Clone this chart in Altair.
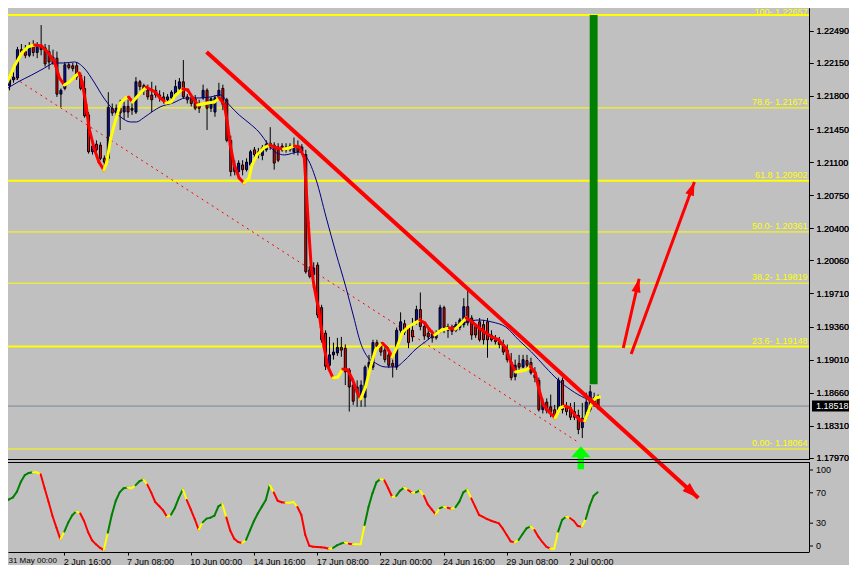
import math
import altair as alt
import pandas as pd

# ---------------- data (EURUSD-like H4 chart) ----------------
opens = [1.2194, 1.2191, 1.2197, 1.2199, 1.2229, 1.2227, 1.2223, 1.2232, 1.2226, 1.2233,
         1.2231, 1.2227, 1.2215, 1.2220, 1.2182, 1.2188, 1.2213, 1.2212, 1.2212, 1.2202,
         1.2188, 1.2160, 1.2121, 1.2129, 1.2128, 1.2114, 1.2114, 1.2167, 1.2162, 1.2167,
         1.2163, 1.2169, 1.2165, 1.2163, 1.2195, 1.2191, 1.2186, 1.2181, 1.2186, 1.2181,
         1.2179, 1.2176, 1.2178, 1.2180, 1.2188, 1.2195, 1.2179, 1.2177, 1.2177, 1.2171,
         1.2178, 1.2186, 1.2167, 1.2163, 1.2178, 1.2188, 1.2176, 1.2133, 1.2100, 1.2100,
         1.2107, 1.2102, 1.2107, 1.2123, 1.2121, 1.2117, 1.2123, 1.2130, 1.2128, 1.2126,
         1.2123, 1.2126, 1.2123, 1.2121, 1.2127, 1.2121, 1.2118, 1.1996, 1.1991, 1.2001,
         1.1956, 1.1929, 1.1895, 1.1906, 1.1908, 1.1914, 1.1913, 1.1890, 1.1874, 1.1866,
         1.1861, 1.1861, 1.1893, 1.1893, 1.1919, 1.1917, 1.1911, 1.1906, 1.1897, 1.1893,
         1.1932, 1.1939, 1.1935, 1.1932, 1.1941, 1.1954, 1.1936, 1.1929, 1.1928, 1.1924,
         1.1932, 1.1956, 1.1932, 1.1935, 1.1932, 1.1935, 1.1938, 1.1957, 1.1945, 1.1936,
         1.1941, 1.1938, 1.1941, 1.1927, 1.1922, 1.1921, 1.1917, 1.1911, 1.1898, 1.1883,
         1.1897, 1.1893, 1.1900, 1.1898, 1.1885, 1.1879, 1.1848, 1.1856, 1.1851, 1.1848,
         1.1848, 1.1879, 1.1851, 1.1850, 1.1846, 1.1842, 1.1829, 1.1840, 1.1848, 1.1856,
         1.1860]
highs = [1.2198, 1.2201, 1.2205, 1.2232, 1.2235, 1.2234, 1.2237, 1.2239, 1.2237, 1.2255,
         1.2235, 1.2234, 1.2229, 1.2227, 1.2188, 1.2216, 1.2215, 1.2215, 1.2216, 1.2205,
         1.2201, 1.2163, 1.2130, 1.2133, 1.2131, 1.2117, 1.2184, 1.2172, 1.2171, 1.2176,
         1.2174, 1.2176, 1.2172, 1.2200, 1.2197, 1.2193, 1.2192, 1.2195, 1.2191, 1.2186,
         1.2184, 1.2182, 1.2186, 1.2197, 1.2199, 1.2218, 1.2182, 1.2180, 1.2181, 1.2176,
         1.2192, 1.2188, 1.2179, 1.2181, 1.2194, 1.2192, 1.2178, 1.2138, 1.2112, 1.2112,
         1.2112, 1.2114, 1.2123, 1.2126, 1.2125, 1.2128, 1.2133, 1.2147, 1.2131, 1.2130,
         1.2130, 1.2130, 1.2130, 1.2136, 1.2133, 1.2129, 1.2123, 1.2000, 1.2004, 1.2004,
         1.1959, 1.1932, 1.1925, 1.1919, 1.1924, 1.1925, 1.1917, 1.1892, 1.1877, 1.1879,
         1.1879, 1.1895, 1.1906, 1.1922, 1.1922, 1.1919, 1.1914, 1.1911, 1.1901, 1.1935,
         1.1951, 1.1943, 1.1936, 1.1945, 1.1958, 1.1972, 1.1941, 1.1935, 1.1932, 1.1932,
         1.1959, 1.1958, 1.1939, 1.1938, 1.1941, 1.1945, 1.1966, 1.1975, 1.1948, 1.1939,
         1.1945, 1.1943, 1.1945, 1.1932, 1.1927, 1.1925, 1.1922, 1.1917, 1.1908, 1.1901,
         1.1906, 1.1906, 1.1906, 1.1903, 1.1893, 1.1882, 1.1860, 1.1860, 1.1864, 1.1853,
         1.1882, 1.1882, 1.1856, 1.1855, 1.1856, 1.1848, 1.1855, 1.1866, 1.1874, 1.1866,
         1.1864]
lows = [1.2186, 1.2186, 1.2194, 1.2197, 1.2223, 1.2220, 1.2221, 1.2222, 1.2220, 1.2223,
        1.2211, 1.2208, 1.2213, 1.2179, 1.2168, 1.2186, 1.2208, 1.2206, 1.2197, 1.2186,
        1.2157, 1.2119, 1.2118, 1.2115, 1.2112, 1.2102, 1.2112, 1.2159, 1.2157, 1.2144,
        1.2155, 1.2157, 1.2160, 1.2161, 1.2186, 1.2181, 1.2176, 1.2163, 1.2178, 1.2174,
        1.2172, 1.2174, 1.2176, 1.2178, 1.2184, 1.2177, 1.2172, 1.2169, 1.2165, 1.2162,
        1.2176, 1.2144, 1.2163, 1.2158, 1.2176, 1.2165, 1.2131, 1.2095, 1.2096, 1.2096,
        1.2096, 1.2100, 1.2104, 1.2114, 1.2114, 1.2112, 1.2121, 1.2123, 1.2102, 1.2110,
        1.2121, 1.2120, 1.2121, 1.2118, 1.2117, 1.2118, 1.1992, 1.1987, 1.1987, 1.1945,
        1.1919, 1.1890, 1.1890, 1.1901, 1.1905, 1.1904, 1.1874, 1.1846, 1.1853, 1.1851,
        1.1851, 1.1851, 1.1888, 1.1890, 1.1911, 1.1905, 1.1898, 1.1892, 1.1882, 1.1890,
        1.1929, 1.1927, 1.1913, 1.1920, 1.1938, 1.1932, 1.1922, 1.1922, 1.1919, 1.1922,
        1.1929, 1.1929, 1.1924, 1.1927, 1.1930, 1.1932, 1.1935, 1.1937, 1.1922, 1.1924,
        1.1920, 1.1917, 1.1903, 1.1920, 1.1917, 1.1913, 1.1906, 1.1898, 1.1879, 1.1879,
        1.1890, 1.1892, 1.1892, 1.1885, 1.1877, 1.1846, 1.1844, 1.1844, 1.1840, 1.1839,
        1.1846, 1.1844, 1.1842, 1.1837, 1.1837, 1.1822, 1.1818, 1.1837, 1.1846, 1.1851,
        1.1848]
closes = [1.2191, 1.2197, 1.2200, 1.2229, 1.2226, 1.2223, 1.2232, 1.2226, 1.2233, 1.2229,
          1.2214, 1.2216, 1.2221, 1.2182, 1.2186, 1.2213, 1.2210, 1.2209, 1.2200, 1.2188,
          1.2159, 1.2121, 1.2127, 1.2123, 1.2114, 1.2110, 1.2168, 1.2162, 1.2167, 1.2162,
          1.2169, 1.2163, 1.2167, 1.2195, 1.2190, 1.2186, 1.2179, 1.2176, 1.2181, 1.2178,
          1.2175, 1.2179, 1.2184, 1.2190, 1.2195, 1.2179, 1.2176, 1.2172, 1.2167, 1.2167,
          1.2186, 1.2167, 1.2177, 1.2178, 1.2186, 1.2171, 1.2133, 1.2100, 1.2106, 1.2109,
          1.2102, 1.2110, 1.2121, 1.2118, 1.2118, 1.2125, 1.2129, 1.2126, 1.2109, 1.2112,
          1.2127, 1.2123, 1.2127, 1.2128, 1.2121, 1.2126, 1.1994, 1.1989, 1.1998, 1.1948,
          1.1922, 1.1894, 1.1906, 1.1909, 1.1914, 1.1911, 1.1888, 1.1872, 1.1857, 1.1872,
          1.1874, 1.1893, 1.1898, 1.1919, 1.1915, 1.1909, 1.1901, 1.1895, 1.1894, 1.1932,
          1.1941, 1.1930, 1.1919, 1.1925, 1.1954, 1.1936, 1.1926, 1.1925, 1.1924, 1.1928,
          1.1956, 1.1935, 1.1936, 1.1931, 1.1938, 1.1943, 1.1957, 1.1940, 1.1927, 1.1927,
          1.1922, 1.1922, 1.1922, 1.1922, 1.1920, 1.1917, 1.1909, 1.1901, 1.1882, 1.1895,
          1.1893, 1.1901, 1.1895, 1.1887, 1.1882, 1.1848, 1.1856, 1.1847, 1.1846, 1.1842,
          1.1879, 1.1848, 1.1846, 1.1840, 1.1840, 1.1827, 1.1839, 1.1856, 1.1867, 1.1861,
          1.18518]

# fast coloured moving average (knots: bar position, price)
ma_bars = [0, 2.5, 4.25, 5.75, 7.5, 9.25, 10.75, 12.5, 13.75, 15,
           16.25, 17.5, 18.75, 19.5, 20.5, 21.25, 22.5, 23.75, 25, 25.75,
           26.75, 28, 29.25, 30.5, 31.25, 32.25, 34.25, 35.75, 37, 38,
           39.25, 40.75, 42, 43.25, 45, 46.25, 47.5, 48.75, 50, 51.25,
           53, 54.25, 55.5, 56.25, 57, 58, 59.25, 60.5, 61.75, 62.5,
           63.75, 65.5, 67, 68.75, 70.5, 72, 73.25, 74.5, 75.75, 76.75,
           77.5, 78.25, 79.25, 80, 80.75, 81.75, 83, 84.25, 85.5, 86.75,
           88, 89.25, 90, 91.25, 92.5, 93.75, 95.5, 96.75, 98, 99.25,
           100.5, 102, 103.75, 105, 106.25, 107.5, 108.75, 110.5, 112.5, 114,
           115.5, 116.75, 118.25, 120, 121.75, 123.25, 125, 126.75, 128, 129.25,
           130.5, 131.75, 133, 134.25, 135, 136.25, 138, 139.25, 140.5, 141.75,
           143, 144.25, 145.5, 146.75, 147.5, 148.5, 149.5, 150.5]
ma_prices = [1.21895, 1.22128, 1.22255, 1.22319, 1.22340, 1.22329, 1.22266, 1.22160, 1.21991, 1.21916,
             1.21948, 1.22001, 1.22043, 1.21948, 1.21705, 1.21461, 1.21250, 1.21102, 1.21017, 1.21102,
             1.21356, 1.21546, 1.21726, 1.21779, 1.21789, 1.21737, 1.21832, 1.21895, 1.21864, 1.21842,
             1.21779, 1.21726, 1.21737, 1.21811, 1.21874, 1.21864, 1.21779, 1.21705, 1.21716, 1.21726,
             1.21737, 1.21779, 1.21705, 1.21525, 1.21281, 1.21070, 1.20932, 1.20879, 1.20932, 1.21070,
             1.21176, 1.21250, 1.21281, 1.21250, 1.21239, 1.21250, 1.21271, 1.21260, 1.21144, 1.20456,
             1.19990, 1.19779, 1.19567, 1.19355, 1.19144, 1.18932, 1.18816, 1.18826, 1.18911, 1.18900,
             1.18794, 1.18657, 1.18593, 1.18720, 1.18932, 1.19112, 1.19186, 1.19133, 1.19038, 1.19144,
             1.19292, 1.19355, 1.19398, 1.19429, 1.19398, 1.19324, 1.19271, 1.19324, 1.19345, 1.19334,
             1.19398, 1.19451, 1.19408, 1.19345, 1.19292, 1.19250, 1.19218, 1.19133, 1.18985, 1.18879,
             1.18890, 1.18900, 1.18932, 1.18868, 1.18720, 1.18530, 1.18445, 1.18392, 1.18498, 1.18519,
             1.18498, 1.18424, 1.18371, 1.18361, 1.18445, 1.18551, 1.18604, 1.18614]

# slow navy moving average (knots)
slow_bars = [0, 3.25, 6.75, 10, 12.5, 15, 17.5, 20, 22.5, 25,
             26.75, 29.25, 31.75, 33.25, 35, 37.5, 39.25, 42.5, 45.75, 49.25,
             52, 54.5, 56.75, 59.25, 61.75, 64.25, 66.75, 68.75, 70.75, 74.25,
             76.25, 78.75, 81.25, 83.75, 86.25, 88.25, 90, 91.75, 93.75, 96.25,
             98.75, 101.25, 103.75, 107, 110, 113.25, 116.75, 120, 123.25, 126.75,
             130, 133.25, 136.75, 140, 143.25, 146.75, 149.25]
slow_prices = [1.21864, 1.21948, 1.22022, 1.22096, 1.22149, 1.22149, 1.22160, 1.22096, 1.21948, 1.21779,
               1.21684, 1.21578, 1.21525, 1.21525, 1.21567, 1.21641, 1.21684, 1.21726, 1.21779, 1.21779,
               1.21790, 1.21811, 1.21705, 1.21599, 1.21514, 1.21419, 1.21281, 1.21197, 1.21176, 1.21207,
               1.21155, 1.20911, 1.20520, 1.20139, 1.19779, 1.19461, 1.19186, 1.19038, 1.18974, 1.18932,
               1.18932, 1.19006, 1.19112, 1.19218, 1.19313, 1.19355, 1.19408, 1.19429, 1.19408, 1.19355,
               1.19218, 1.19091, 1.18932, 1.18794, 1.18688, 1.18604, 1.18572]

# oscillator (lower window), one value per bar
osc_values = [58.3, 61.4, 64.0, 71.5, 84.6, 93.4, 96.1, 96.9, 96.9, 94.3,
              75.9, 58.3, 39.5, 24.1, 8.8, 18.9, 31.1, 40.4, 45.6, 43.0,
              32.9, 18.4, 7.5, 2.2, -2.2, -5.3, 17.5, 40.8, 59.2, 70.6,
              75.9, 76.8, 75.9, 79.8, 85.1, 87.7, 80.7, 70.2, 57.9, 52.6,
              46.9, 38.2, 41.2, 50.4, 63.6, 74.6, 60.5, 48.2, 35.5, 21.5,
              31.1, 36.0, 37.3, 39.9, 52.2, 55.3, 37.7, 20.2, 9.6, 5.3,
              3.9, 7.9, 20.6, 32.9, 43.0, 51.8, 60.5, 80.3, 70.6, 59.6,
              57.5, 57.0, 57.0, 57.9, 51.3, 40.8, 14.5, 0.4, -0.9, -1.3,
              -1.8, -2.2, -3.5, -2.6, 0.9, 3.1, 4.8, 3.1, 2.2, 2.2,
              2.2, 27.6, 51.3, 69.3, 83.8, 88.2, 86.4, 75.9, 64.5, 65.8,
              72.8, 76.8, 73.7, 70.2, 70.6, 73.2, 66.2, 54.8, 48.2, 41.7,
              49.6, 51.8, 50.4, 49.1, 50.9, 58.3, 70.6, 74.1, 62.7, 51.8,
              40.8, 38.2, 35.5, 33.3, 31.6, 29.8, 22.8, 14.5, 6.1, 4.8,
              7.9, 15.8, 23.2, 25.9, 21.1, 12.3, 5.3, -0.9, -3.5, -3.5,
              18.9, 34.2, 38.6, 36.8, 32.9, 26.3, 25.4, 35.5, 53.1, 66.2,
              70.6]

fib_prices = [1.22657, 1.21674, 1.20902, 1.20361, 1.19819, 1.19148, 1.18064]
fib_labels = ["100- 1.22657", "78.6- 1.21674", "61.8 1.20902", "50.0- 1.20361",
              "38.2- 1.19819", "23.6- 1.19148", "0.00- 1.18064"]

price_ticks = [1.22490, 1.22150, 1.21800, 1.21450, 1.21100, 1.20750, 1.20400,
               1.20060, 1.19710, 1.19360, 1.19010, 1.18660, 1.18310, 1.17970]
osc_ticks = [0, 30, 70, 100]
time_tick_bars = [15, 31, 47, 63, 79, 95, 111, 127, 143]
time_tick_labels = ["2 Jun 16:00", "7 Jun 08:00", "10 Jun 00:00", "14 Jun 16:00",
                    "17 Jun 08:00", "22 Jun 00:00", "24 Jun 16:00", "29 Jun 08:00", "2 Jul 00:00"]
first_time_label = "31 May 00:00"

last_price = 1.18518
channel_bars = [0, 145]
channel_prices = [1.22054, 1.18138]
arrow_tail_bars = [51, 156.5, 158.5]
arrow_tail_prices = [1.22266, 1.19133, 1.19070]
arrow_tip_bars = [175.5, 160.5, 174.5]
arrow_tip_prices = [1.17546, 1.19866, 1.20890]
target_bars = [148, 150]
target_prices = [1.22657, 1.18750]
signal_bar = 145.75
signal_price = 1.17970

# ---------------- styling / layout ----------------
FONT = "Liberation Sans"
BG = "#C0C0C0"
YEL = "#FFFF00"
RED = "#FF0000"
GRN = "#008000"
LIME = "#00FF00"
NAVY = "#000080"
BULL = "#0A0AD2"
BEAR = "#FF0000"

# one view holds both windows; the page margin hides the first 8 px of the original
W, H = 801, 544              # view: x 8..809, y 8..552 on the page
MAIN_BOTTOM = 451            # price window ends here (view px)
SUB_TOP = 454                # oscillator window starts here (view px)
X_DOMAIN = [2, 202.25]
Y_DOMAIN = [1.17958, 1.22731]
OSC_RANGE = [538, 462]       # pixel rows of 0 and 100

xs = alt.Scale(domain=X_DOMAIN, range=[0, W], nice=False, zero=False)
ys = alt.Scale(domain=Y_DOMAIN, range=[MAIN_BOTTOM, 0], nice=False, zero=False)
osc_s = alt.Scale(domain=[0, 100], range=OSC_RANGE, nice=False, zero=False)

common_axis = dict(grid=False, title=None, tickColor="black", domainColor="black",
                   labelColor="black", labelFont=FONT, labelFontSize=9,
                   labelOverlap=False, labelFlush=False)
y_axis = alt.Axis(orient="right", values=price_ticks, format=".5f", tickSize=4,
                  labelPadding=3, **common_axis)
label_expr = " : ".join(f"datum.value == {b} ? '{t}'"
                        for b, t in zip(time_tick_bars, time_tick_labels)) + " : ''"
time_axis = alt.Axis(orient="bottom", values=time_tick_bars, labelExpr=label_expr,
                     tickSize=3, labelAlign="left", labelBaseline="top",
                     labelPadding=2, labelOffset=-1, **common_axis)


def MX(f):
    return alt.X(f, scale=xs, axis=time_axis)


def MY(f):
    return alt.Y(f, scale=ys, axis=y_axis)


def OY(f):
    return alt.Y(f, scale=osc_s, axis=None)


# ---------------- tables ----------------
candles = pd.DataFrame({"bar": list(range(len(closes))), "open": opens,
                        "high": highs, "low": lows, "close": closes})
candles["col"] = [BULL if c > o else BEAR for o, c in zip(opens, closes)]

ma_seg = pd.DataFrame({
    "b1": ma_bars[:-1], "p1": ma_prices[:-1], "b2": ma_bars[1:], "p2": ma_prices[1:],
    "col": [YEL if ma_prices[i + 1] >= ma_prices[i] else RED for i in range(len(ma_prices) - 1)],
})

slow = pd.DataFrame({"bar": slow_bars, "price": slow_prices})
channel = pd.DataFrame({"bar": channel_bars, "price": channel_prices})

fib = pd.DataFrame({"price": fib_prices, "label": fib_labels})
fib["level"] = [l.split("-")[0].split()[0] for l in fib_labels]
fib["strong"] = fib["level"].isin(["100", "61.8", "23.6"])
fib["top"] = fib["price"] == max(fib_prices)

px_per_bar = W / (X_DOMAIN[1] - X_DOMAIN[0])
px_per_price = MAIN_BOTTOM / (Y_DOMAIN[1] - Y_DOMAIN[0])
angles = []
for tb, tp, hb, hp in zip(arrow_tail_bars, arrow_tail_prices, arrow_tip_bars, arrow_tip_prices):
    a = math.degrees(math.atan2((hb - tb) * px_per_bar, (hp - tp) * px_per_price))
    angles.append(a % 360)
arrows = pd.DataFrame({"b1": arrow_tail_bars, "p1": arrow_tail_prices,
                       "b2": arrow_tip_bars, "p2": arrow_tip_prices,
                       "angle": angles, "w": [4, 3, 3], "hs": [330, 230, 230]})

target = pd.DataFrame({"b1": [target_bars[0]], "b2": [target_bars[1]],
                       "p1": [target_prices[0]], "p2": [target_prices[1]]})
signal = pd.DataFrame({"bar": [signal_bar], "price": [signal_price]})
lastp = pd.DataFrame({"price": [last_price], "label": [f"{last_price:.5f}"]})
first_lab = pd.DataFrame({"label": [first_time_label]})
one = pd.DataFrame({"a": [0]})
osc_tick_df = pd.DataFrame({"v": osc_ticks, "label": [str(t) for t in osc_ticks]})

osc_rows = []
for i in range(len(osc_values) - 1):
    d = osc_values[i + 1] - osc_values[i]
    dp = osc_values[i] - osc_values[i - 1] if i > 0 else d
    if d > 0 and dp > 0:
        c = GRN
    elif d < 0 and dp < 0:
        c = RED
    else:
        c = YEL
    osc_rows.append({"b1": i, "v1": osc_values[i], "b2": i + 1, "v2": osc_values[i + 1], "col": c})
osc = pd.DataFrame(osc_rows)

# ---------------- price window ----------------
cur_rule = alt.Chart(lastp).mark_rule(color="#778899", strokeWidth=1).encode(
    x=alt.value(0), x2=alt.value(W), y=MY("price:Q"))
fib_thin = alt.Chart(fib).transform_filter("!datum.strong").mark_rule(
    color=YEL, strokeWidth=1).encode(x=alt.value(0), x2=alt.value(W), y=MY("price:Q"))
fib_thick = alt.Chart(fib).transform_filter("datum.strong").mark_rule(
    color=YEL, strokeWidth=2).encode(x=alt.value(0), x2=alt.value(W), y=MY("price:Q"))
chan = alt.Chart(channel).mark_line(color=RED, strokeWidth=1, strokeDash=[2, 4], clip=True).encode(
    x=MX("bar:Q"), y=MY("price:Q"))
wicks = alt.Chart(candles).mark_rule(color="black", strokeWidth=1, xOffset=0.5, clip=True).encode(
    x=MX("bar:Q"), y=MY("low:Q"), y2=alt.Y2("high:Q"))
bodies = alt.Chart(candles).mark_bar(size=2, stroke="black", strokeWidth=1, xOffset=0.5,
                                     clip=True).encode(
    x=MX("bar:Q"), y=MY("open:Q"), y2=alt.Y2("close:Q"), color=alt.Color("col:N", scale=None))
slow_line = alt.Chart(slow).mark_line(color=NAVY, strokeWidth=1, interpolate="monotone",
                                      clip=True).encode(x=MX("bar:Q"), y=MY("price:Q"))
ma_line = alt.Chart(ma_seg).mark_rule(strokeWidth=3, strokeCap="round", clip=True).encode(
    x=MX("b1:Q"), x2=alt.X2("b2:Q"), y=MY("p1:Q"), y2=alt.Y2("p2:Q"),
    color=alt.Color("col:N", scale=None))
target_bar = alt.Chart(target).mark_rect(color=GRN).encode(
    x=MX("b1:Q"), x2=alt.X2("b2:Q"), y=MY("p1:Q"), y2=alt.Y2("p2:Q"))
fib_text = alt.Chart(fib).transform_filter("!datum.top").mark_text(
    align="right", baseline="middle", dy=-6, color=YEL, font=FONT, fontSize=9).encode(
    x=alt.value(W - 1.5), y=MY("price:Q"), text="label:N")
# the top label sits just under the page margin so that it stays whole
fib_text_top = alt.Chart(fib).transform_filter("datum.top").mark_text(
    align="right", baseline="middle", dy=-2.5, color=YEL, font=FONT, fontSize=9).encode(
    x=alt.value(W - 1.5), y=MY("price:Q"), text="label:N")
UP_ARROW = "M0,-1 L0.85,-0.05 L0.28,-0.05 L0.28,1 L-0.28,1 L-0.28,-0.05 L-0.85,-0.05 Z"
sig = alt.Chart(signal).mark_point(shape=UP_ARROW, filled=True, color=LIME, opacity=1,
                                   size=529, strokeWidth=0).encode(
    x=MX("bar:Q"), y=MY("price:Q"))
shafts = alt.Chart(arrows).mark_rule(color=RED, strokeCap="butt").encode(
    x=MX("b1:Q"), x2=alt.X2("b2:Q"), y=MY("p1:Q"), y2=alt.Y2("p2:Q"),
    size=alt.Size("w:Q", scale=None))
HEAD = "M0,0 L0.6,1.8 L-0.6,1.8 Z"
heads = alt.Chart(arrows).mark_point(shape=HEAD, filled=True, color=RED, opacity=1,
                                     strokeWidth=0).encode(
    x=MX("b2:Q"), y=MY("p2:Q"), angle=alt.Angle("angle:Q", scale=None),
    size=alt.Size("hs:Q", scale=None))
price_box = alt.Chart(lastp).mark_rule(color="black", strokeWidth=11, strokeCap="butt").encode(
    x=alt.value(W + 3), x2=alt.value(W + 40), y=MY("price:Q"))
price_txt = alt.Chart(lastp).mark_text(align="left", baseline="middle", color="white",
                                       font=FONT, fontSize=9).encode(
    x=alt.value(W + 7), y=MY("price:Q"), text="label:N")

price_window = alt.layer(cur_rule, fib_thin, fib_thick, chan, wicks, bodies, slow_line,
                         ma_line, target_bar, fib_text, fib_text_top, sig, price_box, price_txt)

# ---------------- oscillator window ----------------
osc_line = alt.Chart(osc).mark_rule(strokeWidth=2, strokeCap="round", clip=True).encode(
    x=MX("b1:Q"), x2=alt.X2("b2:Q"), y=OY("v1:Q"), y2=alt.Y2("v2:Q"),
    color=alt.Color("col:N", scale=None))
osc_tick_marks = alt.Chart(osc_tick_df).mark_rule(color="black", strokeWidth=1).encode(
    x=alt.value(W), x2=alt.value(W + 4), y=OY("v:Q"))
osc_tick_text = alt.Chart(osc_tick_df).mark_text(align="left", baseline="middle", color="black",
                                                 font=FONT, fontSize=9).encode(
    x=alt.value(W + 7), y=OY("v:Q"), text="label:N")
osc_window = alt.layer(osc_line, osc_tick_marks, osc_tick_text)

# ---------------- frame, arrows drawn over everything ----------------
frame_main_bottom = alt.Chart(one).mark_rule(color="black", strokeWidth=1).encode(
    x=alt.value(0), x2=alt.value(W + 1), y=alt.value(MAIN_BOTTOM + 0.5))
frame_sub_top = alt.Chart(one).mark_rule(color="black", strokeWidth=1).encode(
    x=alt.value(0), x2=alt.value(W + 1), y=alt.value(SUB_TOP + 0.5))
frame_sub_right = alt.Chart(one).mark_rule(color="black", strokeWidth=1).encode(
    x=alt.value(W + 0.5), y=alt.value(SUB_TOP), y2=alt.value(H))
# first time label: the original is cut by the window edge; here it is kept whole at the left
first_time = alt.Chart(first_lab).mark_text(align="left", baseline="top", dy=5,
                                            color="black", font=FONT, fontSize=8).encode(
    x=alt.value(0.5), y=alt.value(H), text="label:N")
overlay = alt.layer(shafts, heads, frame_main_bottom, frame_sub_top, frame_sub_right, first_time)

chart = alt.layer(price_window, osc_window, overlay).resolve_scale(y="independent").properties(
    width=W, height=H,
    autosize=alt.AutoSizeParams(type="none"),
    padding={"left": 0, "top": 0, "right": 40, "bottom": 13},
    background=BG,
).configure_view(stroke="transparent")

chart.save("out.html", embed_options={"renderer": "svg", "actions": False})
